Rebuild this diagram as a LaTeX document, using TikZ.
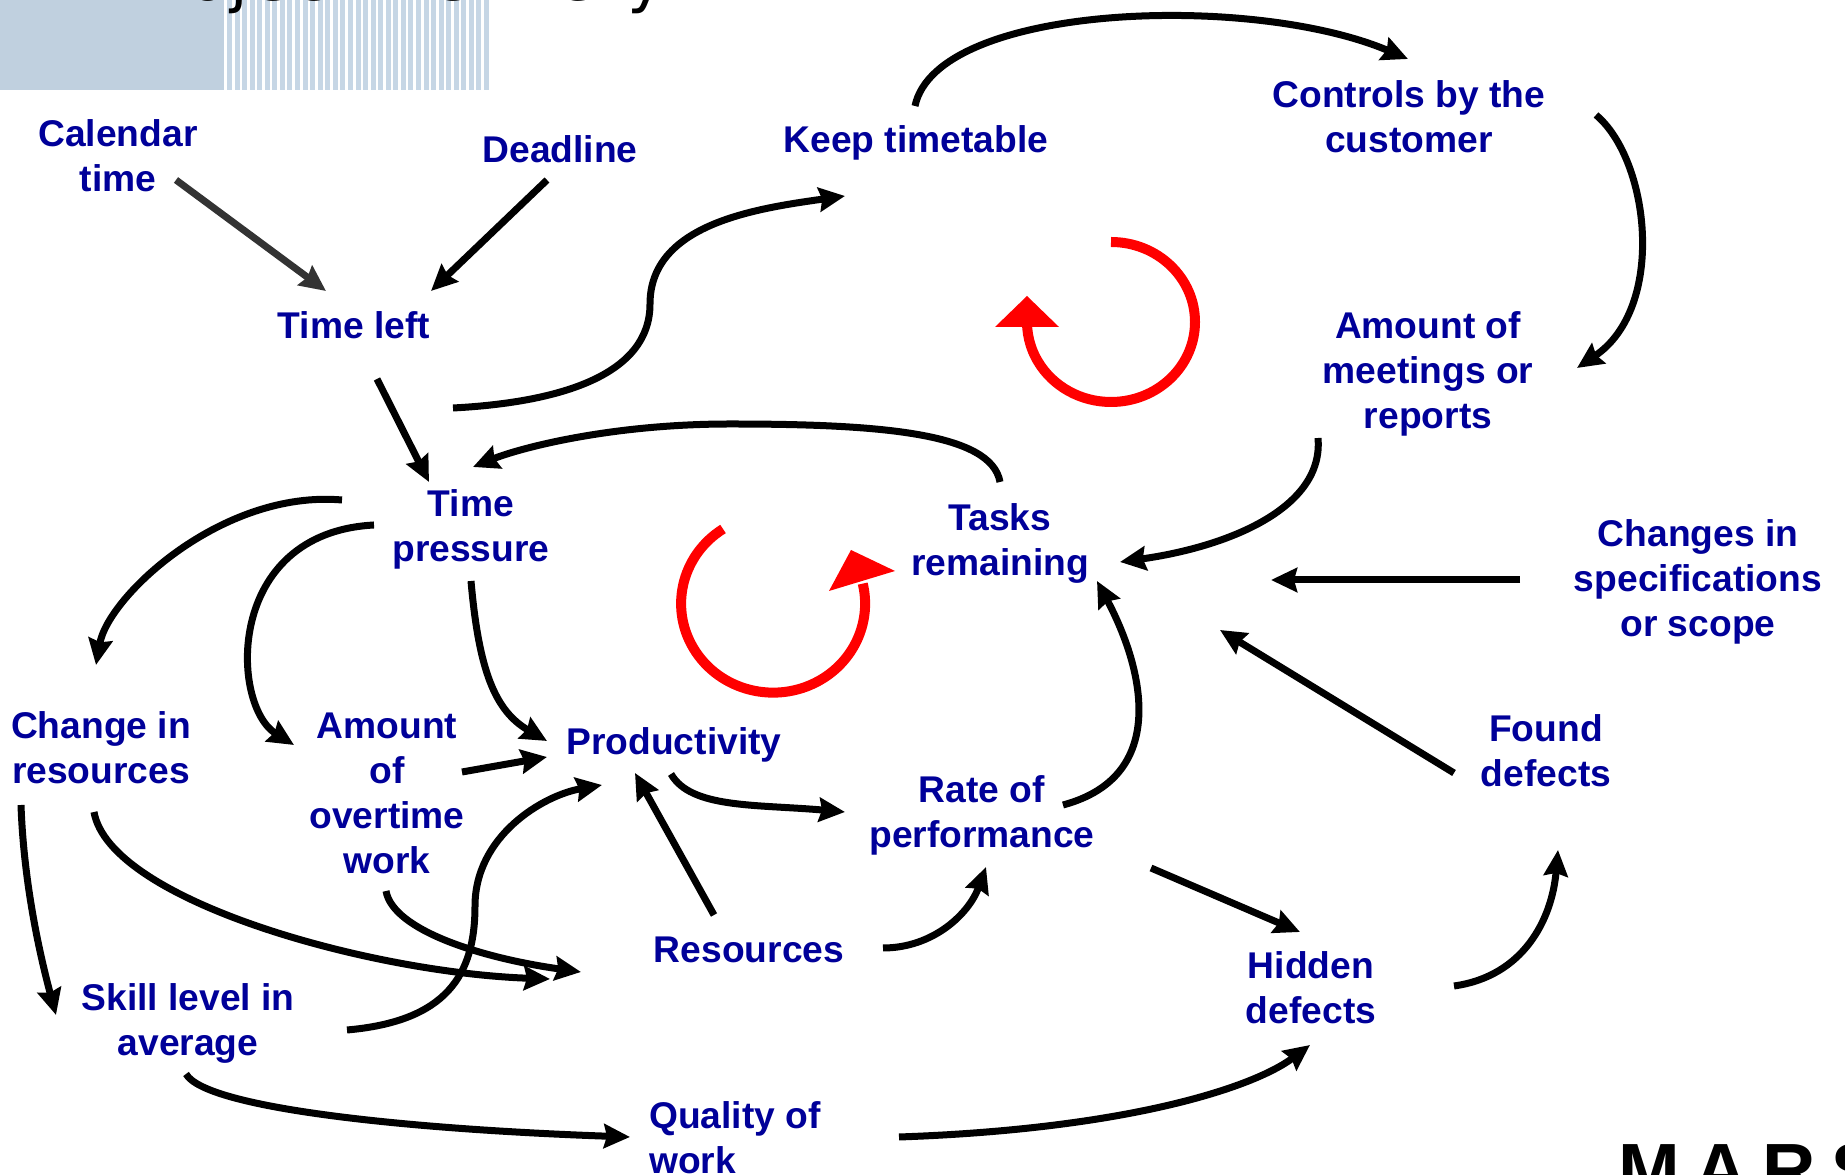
\documentclass[tikz,border=0pt]{standalone}
\usepackage{fontspec}
\setmainfont{Liberation Sans}
\newfontfamily\titlefont[LetterSpace=4.5]{DejaVu Sans}
\newfontfamily\logofont[LetterSpace=20]{Liberation Sans}
\usepackage{tikz}
\usetikzlibrary{arrows.meta}
\definecolor{inkblue}{HTML}{000099}
\definecolor{paleblue}{HTML}{C0D0DF}
\definecolor{stripeblue}{HTML}{C6D6E5}

\begin{document}
\begin{tikzpicture}[x=1pt,y=1pt,
  concept/.style={align=center,inner sep=0pt,text=inkblue,font=\fontsize{37.2}{45}\selectfont\bfseries},
  link/.style={line width=7pt,draw=black,-{Stealth[length=26pt,width=24pt,inset=3pt]}},
  greylink/.style={link,draw=black!80},
  redarc/.style={line width=10pt,draw=red},
  redhead/.style={fill=red}]
\useasboundingbox (0,0) rectangle (1845,1175);

\fill[paleblue] (0,1085) rectangle (224,1175);
\foreach \i in {0,...,34}
  \fill[stripeblue] (227+7.56*\i,1085) rectangle +(5,90);
\node (title) [anchor=base west,inner sep=0pt,font=\fontsize{64}{64}\titlefont] at (120,1174) {Project Delivery};
\node (logo) [anchor=base west,inner sep=0pt,font=\fontsize{74}{74}\logofont\bfseries] at (1618,-21) {MARS};

\node (cal) [concept] at (118,1019) {Calendar\\time};
\node (dead) [concept] at (560,1026) {Deadline};
\node (keep) [concept] at (916,1032.5) {Keep timetable};
\node (ctrl) [concept] at (1409,1058) {Controls by the\\customer};
\node (meet) [concept] at (1428,801.5) {Amount of\\meetings or\\reports};
\node (tleft) [concept] at (354,850) {Time left};
\node (press) [concept] at (471,645.5) {Time\\pressure};
\node (tasks) [concept] at (1000,631.5) {Tasks\\remaining};
\node (chg) [concept] at (1698,593) {Changes in\\specifications\\or scope};
\node (res) [concept] at (101,427) {Change in\\resources};
\node (over) [concept] at (387,382) {Amount\\of\\overtime\\work};
\node (prod) [concept] at (674,430.5) {Productivity};
\node (rate) [concept] at (982,359.5) {Rate of\\performance};
\node (found) [concept] at (1546,424) {Found\\defects};
\node (rsrc) [concept] at (749,225) {Resources};
\node (hid) [concept] at (1311,187) {Hidden\\defects};
\node (skill) [concept] at (188,151.5) {Skill level in\\average};
\node (qual) [concept,align=left] at (735,37) {Quality of\\work};

\coordinate (bendkeep) at (650,871);
\coordinate (bendtop) at (730,751);
\coordinate (bendskill) at (475,269);

% straight ones
\draw [greylink] ([shift={(58,-24)}]cal.center) -- ([shift={(-28,34)}]tleft.center);
\draw [link] ([shift={(-13,-31)}]dead.center) -- ([shift={(77,34)}]tleft.center);
\draw [link] ([shift={(23,-54)}]tleft.center) -- ([shift={(-42,47.5)}]press.center);
\draw [link] ([shift={(-178,2)}]chg.center) -- ([shift={(271,-36.5)}]tasks.center);
\draw [link] ([shift={(-92,-22)}]found.center) -- ([shift={(220,-86.5)}]tasks.center);
\draw [link] ([shift={(75,21)}]over.center) -- ([shift={(-127,-12.5)}]prod.center);
\draw [link] ([shift={(-35,35)}]rsrc.center) -- ([shift={(-39,-28.5)}]prod.center);
\draw [link] ([shift={(169,-52.5)}]rate.center) -- ([shift={(-11,56)}]hid.center);

% curved ones
\draw [link] ([shift={(99,-83)}]tleft.center) .. controls +(3:110) and +(-90:70) .. (bendkeep)
  .. controls +(90:80) and +(188:90) .. ([shift={(-71,-53.5)}]keep.center);
\draw [link] ([shift={(-1,36.5)}]keep.center) .. controls +(78:105) and +(157:170) .. ([shift={(-1,58)}]ctrl.center);
\draw [link] ([shift={(187,2)}]ctrl.center) .. controls +(-40:70) and +(34:108) .. ([shift={(149,5.5)}]meet.center);
\draw [link] ([shift={(-110,-64.5)}]meet.center) .. controls +(-85:70) and +(8:110) .. ([shift={(120,-18.5)}]tasks.center);
\draw [link] ([shift={(0,61.5)}]tasks.center) .. controls +(100:50) and +(0:150) .. (bendtop)
  .. controls +(180:120) and +(22:50) .. ([shift={(2,62.5)}]press.center);
\draw [link] ([shift={(81,10.5)}]rate.center) .. controls +(15:110) and +(-62:100) .. ([shift={(97,-37.5)}]tasks.center);
\draw [link] ([shift={(-129,29.5)}]press.center) .. controls +(175:120) and +(80:70) .. ([shift={(-5,83)}]res.center);
\draw [link] ([shift={(-97,4.5)}]press.center) .. controls +(183:150) and +(148:75) .. ([shift={(-93,48)}]over.center);
\draw [link] ([shift={(0,-51.5)}]press.center) .. controls +(-85:90) and +(150:60) .. ([shift={(-127,3.5)}]prod.center);
\draw [link] ([shift={(159,-6.5)}]skill.center) .. controls +(5:100) and +(-90:69) .. (bendskill)
  .. controls +(90:70) and +(190:60) .. ([shift={(-72,-40.5)}]prod.center);
\draw [link] ([shift={(-3,-29.5)}]prod.center) .. controls +(-60:40) and +(175:90) .. ([shift={(-137,3.5)}]rate.center);
\draw [link] ([shift={(134,2)}]rsrc.center) .. controls +(0:50) and +(-110:50) .. ([shift={(4,-51.5)}]rate.center);
\draw [link] ([shift={(-80,-57)}]res.center) .. controls +(-88:80) and +(105:60) .. ([shift={(-132,8.5)}]skill.center);
\draw [link] ([shift={(-7,-64)}]res.center) .. controls +(-80:90) and +(178:180) .. ([shift={(-199,-29)}]rsrc.center);
\draw [link] ([shift={(-1,-98)}]over.center) .. controls +(-80:40) and +(172:100) .. ([shift={(-168,-22)}]rsrc.center);
\draw [link] ([shift={(-2,-50.5)}]skill.center) .. controls +(-60:40) and +(178:220) .. ([shift={(-105,1)}]qual.center);
\draw [link] ([shift={(164,1)}]qual.center) .. controls +(2:230) and +(217:70) .. ([shift={(-1,-57)}]hid.center);
\draw [link] ([shift={(143,2)}]hid.center) .. controls +(8:70) and +(-95:70) .. ([shift={(12,-99)}]found.center);

% the two red loops
\draw [redarc] (1111,933) arc (90:-184:84 and 80);
\fill [redhead] (1027,879) -- (995,848) -- (1059,848) -- cycle;
\draw [redarc] (723,646) arc (123:373:92 and 89);
\fill [redhead] (895,604) -- (851,625) -- (829,584) -- cycle;
\end{tikzpicture}
\end{document}
